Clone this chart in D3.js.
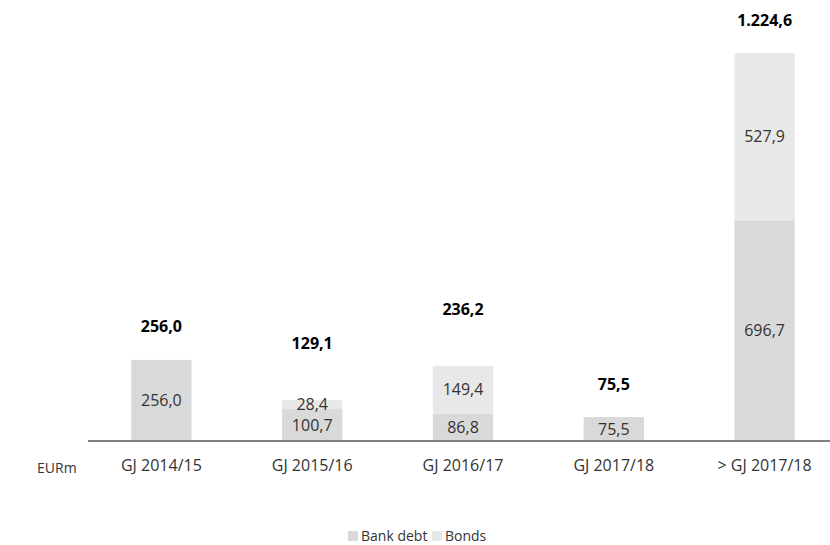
<!DOCTYPE html>
<html>
<head>
<meta charset="utf-8">
<script src="https://cdn.jsdelivr.net/npm/d3@7"></script>
<style>
  body { margin: 0; background: #fff; }
  text { font-family: "Open Sans", "Noto Sans", sans-serif; }
</style>
</head>
<body>
<div id="container"></div>
<script>
/* CONSTANTS AND GLOBALS */
const width = 830;
const height = 545;
const baseY = 441;
const topY = 53;

/* DATA */
const categories = ["GJ 2014/15", "GJ 2015/16", "GJ 2016/17", "GJ 2017/18", "> GJ 2017/18"];
const bankDebt = [256.0, 100.7, 86.8, 75.5, 696.7];
const bonds = [0, 28.4, 149.4, 0, 527.9];
const totals = [256.0, 129.1, 236.2, 75.5, 1224.6];
const seriesNames = ["Bank debt", "Bonds"];
const seriesColors = ["#d9d9d9", "#e8e8e8"];

const fmt = v => {
  const s = v.toFixed(1).split(".");
  return s[0].replace(/\B(?=(\d{3})+(?!\d))/g, ".") + "," + s[1];
};

/* SCALES */
const xScale = d3.scaleBand()
  .domain(categories)
  .range([86, 840])
  .paddingInner(0.6)
  .paddingOuter(0.3);

const yScale = d3.scaleLinear()
  .domain([0, d3.max(totals)])
  .range([baseY, topY]);

const data = categories.map((c, i) => ({ cat: c, bank: bankDebt[i], bonds: bonds[i], total: totals[i] }));
const stack = d3.stack().keys(["bank", "bonds"])(data);

/* SVG */
const svg = d3.select("#container")
  .append("svg")
  .attr("width", width)
  .attr("height", height);

// Bars
svg.selectAll("g.series")
  .data(stack)
  .join("g")
  .attr("class", "series")
  .attr("fill", (d, i) => seriesColors[i])
  .selectAll("rect")
  .data(d => d)
  .join("rect")
  .attr("x", d => xScale(d.data.cat))
  .attr("width", xScale.bandwidth())
  .attr("y", d => yScale(d[1]))
  .attr("height", d => yScale(d[0]) - yScale(d[1]));

// axis line
svg.append("line")
  .attr("x1", 88).attr("x2", width)
  .attr("y1", baseY).attr("y2", baseY)
  .attr("stroke", "#808080")
  .attr("stroke-width", 2);

// inner labels
const bankY = d => (yScale(0) + yScale(d.bank)) / 2;
const bondsY = d => Math.min((yScale(d.bank) + yScale(d.total)) / 2, bankY(d) - 17);

svg.selectAll("text.bank")
  .data(data)
  .join("text")
  .attr("class", "bank")
  .attr("x", d => xScale(d.cat) + xScale.bandwidth() / 2)
  .attr("y", d => bankY(d))
  .attr("dy", "0.35em")
  .attr("text-anchor", "middle")
  .style("font-size", "16px")
  .attr("fill", "#333")
  .text(d => fmt(d.bank));

svg.selectAll("text.bonds")
  .data(data.filter(d => d.bonds > 0))
  .join("text")
  .attr("class", "bonds")
  .attr("x", d => xScale(d.cat) + xScale.bandwidth() / 2)
  .attr("y", d => bondsY(d))
  .attr("dy", "0.35em")
  .attr("text-anchor", "middle")
  .style("font-size", "16px")
  .attr("fill", "#333")
  .text(d => fmt(d.bonds));

// totals
svg.selectAll("text.total")
  .data(data)
  .join("text")
  .attr("class", "total")
  .attr("x", d => xScale(d.cat) + xScale.bandwidth() / 2)
  .attr("y", d => yScale(d.total) - ((d.bonds > 0 && d.total < 500) ? 57 : 33))
  .attr("dy", "0.35em")
  .attr("text-anchor", "middle")
  .style("font-size", "16px")
  .style("font-weight", "bold")
  .attr("fill", "#000")
  .text(d => fmt(d.total));

// category labels
svg.append("g")
  .attr("transform", `translate(0,${baseY})`)
  .call(d3.axisBottom(xScale).tickSize(0).tickPadding(19))
  .call(g => g.select(".domain").remove())
  .call(g => g.selectAll("text")
    .style("font-size", "16px")
    .style("font-family", "'Open Sans', sans-serif")
    .attr("fill", "#333"));

svg.append("text")
  .attr("x", 37)
  .attr("y", 468)
  .attr("dy", "0.35em")
  .style("font-size", "14px")
  .attr("fill", "#333")
  .text("EURm");

// legend
const legend = svg.append("g").attr("transform", "translate(348,536)");
const lx = [0, 84];
seriesNames.forEach((name, i) => {
  legend.append("rect")
    .attr("x", lx[i]).attr("y", -5)
    .attr("width", 10).attr("height", 10)
    .attr("fill", seriesColors[i]);
  legend.append("text")
    .attr("x", lx[i] + 13)
    .attr("y", 0)
    .attr("dy", "0.35em")
    .style("font-size", "14px")
    .attr("fill", "#333")
    .text(name);
});
</script>
</body>
</html>
